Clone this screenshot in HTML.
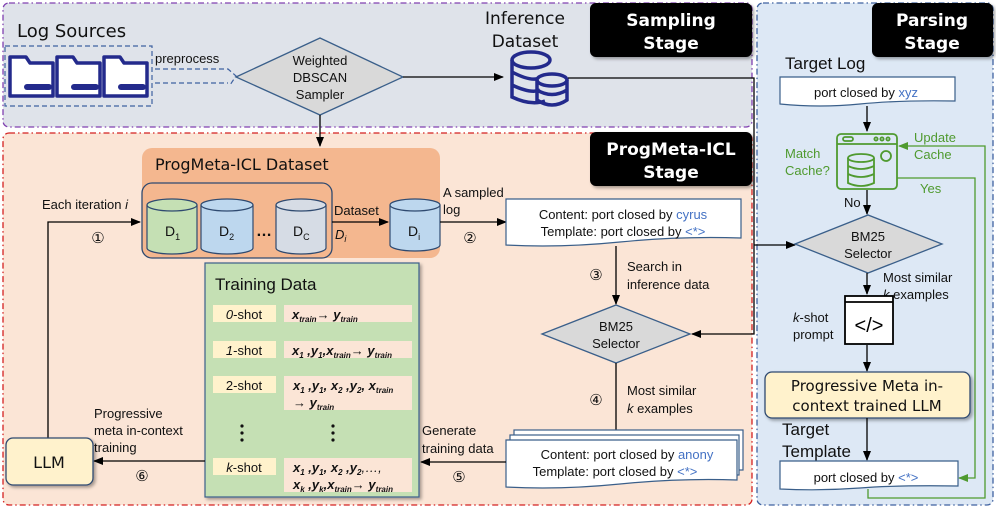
<!DOCTYPE html>
<html><head><meta charset="utf-8"><style>
html,body{margin:0;padding:0;background:#fff;}
svg{display:block;}
text{font-family:"Liberation Sans",Arial,sans-serif;}
.c{font-family:"DejaVu Sans","Liberation Sans",sans-serif;}
</style></head><body>
<svg width="996" height="508" viewBox="0 0 996 508" xmlns="http://www.w3.org/2000/svg">
<defs>
<marker id="a" markerWidth="10" markerHeight="10" refX="9" refY="5" orient="auto" markerUnits="userSpaceOnUse"><path d="M0,1 L10,5 L0,9 z" fill="#000"/></marker>
<marker id="g" markerWidth="10" markerHeight="10" refX="9" refY="5" orient="auto" markerUnits="userSpaceOnUse"><path d="M0,1 L10,5 L0,9 z" fill="#4f9a2f"/></marker>
<filter id="sh" x="-10%" y="-10%" width="130%" height="130%"><feDropShadow dx="2" dy="2" stdDeviation="1.5" flood-opacity="0.35"/></filter>
</defs>

<rect x="3" y="3" width="749" height="124" rx="6" fill="#dfe3ea" stroke="#8040b0" stroke-width="1.3" stroke-dasharray="6,3,1.5,3"/>
<rect x="3" y="133" width="749" height="372" rx="6" fill="#fbe5d6" stroke="#d42020" stroke-width="1.3" stroke-dasharray="6,3,1.5,3"/>
<rect x="757" y="3" width="236" height="502" rx="6" fill="#dde8f5" stroke="#3f62a0" stroke-width="1.3" stroke-dasharray="6,3,1.5,3"/>

<rect x="590" y="3" width="162" height="54" rx="6" fill="#000" filter="url(#sh)"/>
<text class="c" x="671" y="26" font-size="17" font-weight="bold" fill="#fff" text-anchor="middle">Sampling</text>
<text class="c" x="671" y="49" font-size="17" font-weight="bold" fill="#fff" text-anchor="middle">Stage</text>
<rect x="590" y="132" width="162" height="54" rx="6" fill="#000" filter="url(#sh)"/>
<text class="c" x="671" y="155" font-size="17" font-weight="bold" fill="#fff" text-anchor="middle">ProgMeta-ICL</text>
<text class="c" x="671" y="178" font-size="17" font-weight="bold" fill="#fff" text-anchor="middle">Stage</text>
<rect x="872" y="3" width="121" height="54" rx="6" fill="#000" filter="url(#sh)"/>
<text class="c" x="932" y="26" font-size="17" font-weight="bold" fill="#fff" text-anchor="middle">Parsing</text>
<text class="c" x="932" y="49" font-size="17" font-weight="bold" fill="#fff" text-anchor="middle">Stage</text>

<text class="c" x="17" y="37" font-size="18" fill="#111">Log Sources</text>
<rect x="5" y="46" width="147" height="60" fill="none" stroke="#3f62a0" stroke-width="1.2" stroke-dasharray="5,3"/>
<g fill="#fff" stroke="#232a8c" stroke-width="3.5" stroke-linejoin="round">
<path d="M10,57 H26 L30,63 H53 V96 H10 Z"/>
<path d="M57,57 H73 L77,63 H100 V96 H57 Z"/>
<path d="M104,57 H120 L124,63 H147 V96 H104 Z"/>
</g>
<g fill="#232a8c"><rect x="24" y="84" width="28" height="6" rx="3"/><rect x="71" y="84" width="28" height="6" rx="3"/><rect x="118" y="84" width="28" height="6" rx="3"/></g>
<text x="155" y="63" font-size="13" fill="#111">preprocess</text>
<path d="M155,69 H228 L236,76 L230,85 M155,83 H228" fill="none" stroke="#3f62a0" stroke-width="1.2" stroke-dasharray="5,3"/>

<polygon points="236,77 320,38 403,77 320,115" fill="#d9d9d9" stroke="#3a5f8a" stroke-width="1.3"/>
<text x="320" y="65" font-size="13" text-anchor="middle" fill="#111">Weighted</text>
<text x="320" y="82" font-size="13" text-anchor="middle" fill="#111">DBSCAN</text>
<text x="320" y="99" font-size="13" text-anchor="middle" fill="#111">Sampler</text>
<line x1="403" y1="77" x2="503" y2="77" stroke="#000" stroke-width="1.3" marker-end="url(#a)"/>
<line x1="320" y1="115" x2="320" y2="146" stroke="#000" stroke-width="1.3" marker-end="url(#a)"/>

<text class="c" x="525" y="24" font-size="17" text-anchor="middle" fill="#111">Inference</text>
<text class="c" x="525" y="47" font-size="17" text-anchor="middle" fill="#111">Dataset</text>
<g fill="none" stroke="#232a8c" stroke-width="3.5">
<ellipse cx="531" cy="60" rx="19" ry="8"/>
<path d="M512,60 V97 Q531,106 545,101 M512,72 Q531,82 540,78 M512,85 Q531,94 540,90"/>
<ellipse cx="552" cy="80" rx="15" ry="6" fill="#dfe3ea"/>
<path d="M537,80 V100 Q552,110 567,100 V80 M537,90 Q552,99 567,90"/>
</g>
<polyline points="568,78 754,78 754,334 692,334" fill="none" stroke="#000" stroke-width="1.3" marker-end="url(#a)"/>
<line x1="754" y1="245" x2="795" y2="245" stroke="#000" stroke-width="1.3" marker-end="url(#a)"/>

<rect x="142" y="148" width="298" height="110" rx="10" fill="#f4b78f"/>
<text class="c" x="155" y="170" font-size="16" fill="#111">ProgMeta-ICL Dataset</text>
<rect x="142" y="183" width="190" height="75" rx="10" fill="none" stroke="#2f4a70" stroke-width="1.3"/>
<g stroke="#2f4a70" stroke-width="1.2">
<path d="M147,205 V248 A25,6 0 0 0 197,248 V205" fill="#c5e0b4"/><ellipse cx="172" cy="205" rx="25" ry="6" fill="#c5e0b4"/>
<path d="M201,205 V248 A26,6 0 0 0 253,248 V205" fill="#bdd7ee"/><ellipse cx="227" cy="205" rx="26" ry="6" fill="#bdd7ee"/>
<path d="M276,205 V248 A25,6 0 0 0 326,248 V205" fill="#d6dce5"/><ellipse cx="301" cy="205" rx="25" ry="6" fill="#d6dce5"/>
<path d="M390,205 V245 A25,6 0 0 0 440,245 V205" fill="#bdd7ee"/><ellipse cx="415" cy="205" rx="25" ry="6" fill="#bdd7ee"/>
</g>
<text x="165" y="236" font-size="14" fill="#111">D<tspan font-size="9" dy="4">1</tspan></text>
<text x="219" y="236" font-size="14" fill="#111">D<tspan font-size="9" dy="4">2</tspan></text>
<text x="256" y="236" font-size="16" font-weight="bold" fill="#111">…</text>
<text x="293" y="236" font-size="14" fill="#111">D<tspan font-size="9" dy="4">C</tspan></text>
<text x="408" y="236" font-size="14" fill="#111">D<tspan font-size="9" dy="4">i</tspan></text>
<line x1="332" y1="222" x2="388" y2="222" stroke="#000" stroke-width="1.3" marker-end="url(#a)"/>
<text x="334" y="215" font-size="13" fill="#111">Dataset</text>
<text x="335" y="239" font-size="13" font-style="italic" fill="#111">D<tspan font-size="9" dy="3">i</tspan></text>
<text x="443" y="197" font-size="13" fill="#111">A sampled</text>
<text x="443" y="214" font-size="13" fill="#111">log</text>
<line x1="440" y1="222" x2="506" y2="222" stroke="#000" stroke-width="1.3" marker-end="url(#a)"/>
<text x="470" y="243" font-size="15" text-anchor="middle" fill="#111">②</text>
<text x="42" y="209" font-size="13" fill="#111">Each iteration <tspan font-style="italic">i</tspan></text>
<polyline points="48,440 48,222 140,222" fill="none" stroke="#000" stroke-width="1.3" marker-end="url(#a)"/>
<text x="98" y="243" font-size="15" text-anchor="middle" fill="#111">①</text>

<path d="M506,199 H741 V238 Q680,236 620,242 Q560,248 506,245 Z" fill="#fff" stroke="#3a5f8a" stroke-width="1.2"/>
<text x="623" y="219" font-size="13" text-anchor="middle" fill="#111">Content: port closed by <tspan fill="#4472c4">cyrus</tspan></text>
<text x="623" y="236" font-size="13" text-anchor="middle" fill="#111">Template: port closed by <tspan fill="#4472c4">&lt;*&gt;</tspan></text>
<line x1="616" y1="246" x2="616" y2="304" stroke="#000" stroke-width="1.3" marker-end="url(#a)"/>
<text x="596" y="280" font-size="15" text-anchor="middle" fill="#111">③</text>
<text x="627" y="271" font-size="13" fill="#111">Search in</text>
<text x="627" y="289" font-size="13" fill="#111">inference data</text>
<polygon points="542,334 616,305 690,334 616,363" fill="#d9d9d9" stroke="#3a5f8a" stroke-width="1.3"/>
<text x="616" y="331" font-size="13" text-anchor="middle" fill="#111">BM25</text>
<text x="616" y="348" font-size="13" text-anchor="middle" fill="#111">Selector</text>
<line x1="616" y1="363" x2="616" y2="436" stroke="#000" stroke-width="1.3"/>
<text x="596" y="405" font-size="15" text-anchor="middle" fill="#111">④</text>
<text x="627" y="395" font-size="13" fill="#111">Most similar</text>
<text x="627" y="413" font-size="13" fill="#111"><tspan font-style="italic">k</tspan> examples</text>

<rect x="514" y="430" width="229" height="40" fill="#fff" stroke="#3a5f8a" stroke-width="1.2"/>
<rect x="510" y="435" width="229" height="40" fill="#fff" stroke="#3a5f8a" stroke-width="1.2"/>
<path d="M506,440 H737 V480 Q680,478 620,484 Q560,490 506,487 Z" fill="#fff" stroke="#3a5f8a" stroke-width="1.2"/>
<text x="627" y="459" font-size="13" text-anchor="middle" fill="#111">Content: port closed by <tspan fill="#4472c4">anony</tspan></text>
<text x="615" y="476" font-size="13" text-anchor="middle" fill="#111">Template: port closed by <tspan fill="#4472c4">&lt;*&gt;</tspan></text>
<line x1="506" y1="462" x2="421" y2="462" stroke="#000" stroke-width="1.3" marker-end="url(#a)"/>
<text x="422" y="435" font-size="13" fill="#111">Generate</text>
<text x="422" y="453" font-size="13" fill="#111">training data</text>
<text x="459" y="482" font-size="15" text-anchor="middle" fill="#111">⑤</text>

<rect x="205" y="263" width="214" height="234" fill="#c5e0b4" stroke="#3a5f8a" stroke-width="1.2" filter="url(#sh)"/>
<text x="215" y="290" font-size="17" fill="#111">Training Data</text>
<g fill="#fff2cc"><rect x="213" y="305" width="63" height="17"/><rect x="213" y="341" width="63" height="17"/><rect x="213" y="376" width="63" height="17"/><rect x="213" y="458" width="63" height="17"/></g>
<g fill="#fbe5d6"><rect x="284" y="305" width="128" height="17"/><rect x="284" y="341" width="128" height="17"/><rect x="284" y="376" width="128" height="34"/><rect x="284" y="458" width="128" height="34"/></g>
<g font-size="13" fill="#111" text-anchor="middle">
<text x="244" y="319"><tspan font-style="italic">0</tspan>-shot</text>
<text x="244" y="355"><tspan font-style="italic">1</tspan>-shot</text>
<text x="244" y="390">2-shot</text>
<text x="244" y="472"><tspan font-style="italic">k</tspan>-shot</text>
</g>
<g font-size="13" fill="#111" font-weight="bold" font-style="italic">
<text x="292" y="319">x<tspan font-size="8" dy="3">train</tspan><tspan dy="-3" font-weight="normal">→ </tspan>y<tspan font-size="8" dy="3">train</tspan></text>
<text x="292" y="355">x<tspan font-size="8" dy="3">1</tspan><tspan dy="-3"> ,y</tspan><tspan font-size="8" dy="3">1</tspan><tspan dy="-3">,x</tspan><tspan font-size="8" dy="3">train</tspan><tspan dy="-3" font-weight="normal">→ </tspan>y<tspan font-size="8" dy="3">train</tspan></text>
<text x="293" y="390">x<tspan font-size="8" dy="3">1</tspan><tspan dy="-3"> ,y</tspan><tspan font-size="8" dy="3">1</tspan><tspan dy="-3">, x</tspan><tspan font-size="8" dy="3">2</tspan><tspan dy="-3"> ,y</tspan><tspan font-size="8" dy="3">2</tspan><tspan dy="-3">, x</tspan><tspan font-size="8" dy="3">train</tspan></text>
<text x="293" y="407"><tspan font-weight="normal">→ </tspan>y<tspan font-size="8" dy="3">train</tspan></text>
<text x="293" y="472">x<tspan font-size="8" dy="3">1</tspan><tspan dy="-3"> ,y</tspan><tspan font-size="8" dy="3">1</tspan><tspan dy="-3">, x</tspan><tspan font-size="8" dy="3">2</tspan><tspan dy="-3"> ,y</tspan><tspan font-size="8" dy="3">2</tspan><tspan dy="-3" font-weight="normal">,…,</tspan></text>
<text x="293" y="489">x<tspan font-size="8" dy="3">k</tspan><tspan dy="-3"> ,y</tspan><tspan font-size="8" dy="3">k</tspan><tspan dy="-3">,x</tspan><tspan font-size="8" dy="3">train</tspan><tspan dy="-3" font-weight="normal">→ </tspan>y<tspan font-size="8" dy="3">train</tspan></text>
</g>
<g fill="#111"><circle cx="242" cy="426" r="1.6"/><circle cx="242" cy="433" r="1.6"/><circle cx="242" cy="440" r="1.6"/><circle cx="333" cy="426" r="1.6"/><circle cx="333" cy="433" r="1.6"/><circle cx="333" cy="440" r="1.6"/></g>
<line x1="205" y1="461" x2="94" y2="461" stroke="#000" stroke-width="1.3" marker-end="url(#a)"/>
<text x="94" y="418" font-size="13" fill="#111">Progressive</text>
<text x="94" y="435" font-size="13" fill="#111">meta in-context</text>
<text x="94" y="452" font-size="13" fill="#111">training</text>
<text x="142" y="481" font-size="15" text-anchor="middle" fill="#111">⑥</text>
<rect x="6" y="438" width="87" height="47" rx="7" fill="#fff2cc" stroke="#2f4a70" stroke-width="1.3" filter="url(#sh)"/>
<text class="c" x="49" y="468" font-size="16" text-anchor="middle" fill="#111">LLM</text>

<text x="785" y="69" font-size="17" fill="#111">Target Log</text>
<path d="M780,77 H955 V101 Q900,100 860,104 Q820,108 780,104 Z" fill="#fff" stroke="#3a5f8a" stroke-width="1.2"/>
<text x="866" y="97" font-size="13" text-anchor="middle" fill="#111">port closed by <tspan fill="#4472c4">xyz</tspan></text>
<line x1="867" y1="106" x2="867" y2="131" stroke="#000" stroke-width="1.3" marker-end="url(#a)"/>
<g fill="none" stroke="#4f9a2f" stroke-width="1.8">
<rect x="837" y="134" width="60" height="55" rx="4"/>
<line x1="837" y1="144" x2="897" y2="144"/>
<rect x="843" y="137" width="10" height="4" rx="2"/>
<circle cx="876" cy="139" r="1.6"/><circle cx="882" cy="139" r="1.6"/><circle cx="888" cy="139" r="1.6"/>
<circle cx="886" cy="156" r="5"/>
<ellipse cx="861" cy="158" rx="13" ry="4"/>
<path d="M848,158 V183 Q861,189 874,183 V158 M848,166 Q861,172 874,166 M848,174 Q861,180 874,174"/>
</g>
<text x="785" y="158" font-size="13" fill="#4f9a2f">Match</text>
<text x="785" y="175" font-size="13" fill="#4f9a2f">Cache?</text>
<text x="914" y="142" font-size="13" fill="#4f9a2f">Update</text>
<text x="914" y="159" font-size="13" fill="#4f9a2f">Cache</text>
<text x="920" y="193" font-size="13" fill="#4f9a2f">Yes</text>
<polyline points="897,178 975,178 975,478 959,478" fill="none" stroke="#4f9a2f" stroke-width="1.3" marker-end="url(#g)"/>
<polyline points="868,489 868,498 985,498 985,146 899,146" fill="none" stroke="#4f9a2f" stroke-width="1.3" marker-end="url(#g)"/>
<text x="844" y="207" font-size="13" fill="#111">No</text>
<line x1="867" y1="190" x2="867" y2="214" stroke="#000" stroke-width="1.3" marker-end="url(#a)"/>
<polygon points="795,244 868,215 942,244 868,273" fill="#d9d9d9" stroke="#3a5f8a" stroke-width="1.3"/>
<text x="868" y="241" font-size="13" text-anchor="middle" fill="#111">BM25</text>
<text x="868" y="258" font-size="13" text-anchor="middle" fill="#111">Selector</text>
<text x="883" y="282" font-size="13" fill="#111">Most similar</text>
<text x="883" y="299" font-size="13" fill="#111"><tspan font-style="italic">k</tspan> examples</text>
<line x1="867" y1="273" x2="867" y2="294" stroke="#000" stroke-width="1.3" marker-end="url(#a)"/>
<rect x="845" y="296" width="48" height="48" fill="#fff" stroke="#000" stroke-width="1.8"/>
<line x1="845" y1="302" x2="893" y2="302" stroke="#000" stroke-width="1.8"/>
<text x="869" y="332" font-size="20" text-anchor="middle" fill="#000">&lt;/&gt;</text>
<text x="793" y="322" font-size="13" fill="#111"><tspan font-style="italic">k</tspan>-shot</text>
<text x="793" y="339" font-size="13" fill="#111">prompt</text>
<line x1="867" y1="345" x2="867" y2="371" stroke="#000" stroke-width="1.3" marker-end="url(#a)"/>
<rect x="765" y="372" width="205" height="46" rx="7" fill="#fff2cc" stroke="#2f4a70" stroke-width="1.3" filter="url(#sh)"/>
<text class="c" x="867" y="391" font-size="15" text-anchor="middle" fill="#111">Progressive Meta in-</text>
<text class="c" x="867" y="411" font-size="15" text-anchor="middle" fill="#111">context trained LLM</text>
<text x="782" y="435" font-size="17" fill="#111">Target</text>
<text x="782" y="457" font-size="17" fill="#111">Template</text>
<line x1="867" y1="418" x2="867" y2="460" stroke="#000" stroke-width="1.3" marker-end="url(#a)"/>
<path d="M780,461 H958 V486 Q900,485 860,488 Q820,491 780,489 Z" fill="#fff" stroke="#3a5f8a" stroke-width="1.2"/>
<text x="866" y="482" font-size="13" text-anchor="middle" fill="#111">port closed by <tspan fill="#4472c4">&lt;*&gt;</tspan></text>
</svg>
</body></html>
